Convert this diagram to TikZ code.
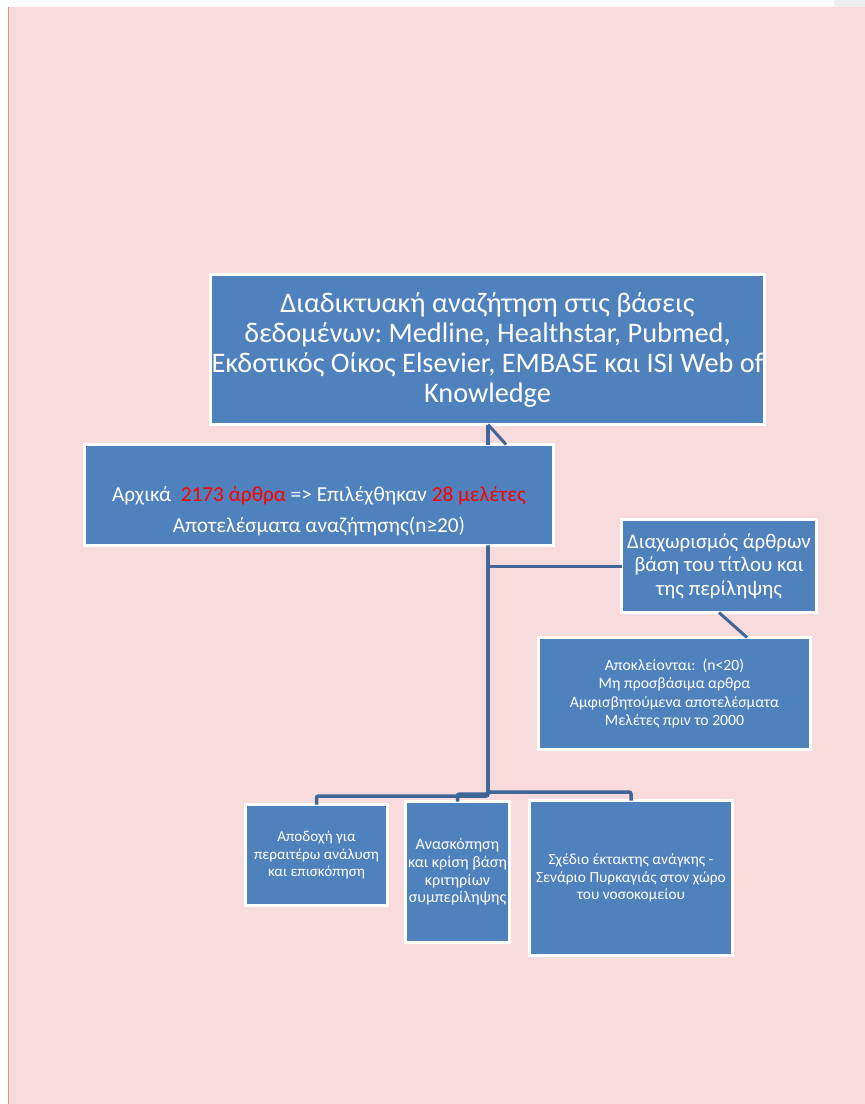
\documentclass[tikz,border=0pt]{standalone}
\usepackage{fontspec}
\setmainfont{Carlito}
\frenchspacing
\usetikzlibrary{calc}
\definecolor{bgpink}{HTML}{F8DBDC}
\definecolor{edgered}{HTML}{E58C8C}
\definecolor{boxblue}{HTML}{4F81BD}
\definecolor{linkblue}{HTML}{3F6696}
\definecolor{cornergray}{HTML}{EEEEEE}
\begin{document}
\begin{tikzpicture}[x=1pt,y=-1pt,
  bluebox/.style={rectangle, fill=boxblue, draw=white, line width=3pt, inner sep=0pt, outer sep=0pt, text=white, align=center},
  link/.style={draw=linkblue, line width=3.5pt, rounded corners=2pt}]
\useasboundingbox (0,0) rectangle (865,1104);
\fill[white] (0,0) rectangle (865,1104);
\fill[cornergray] (834,0) rectangle (865,7);
\fill[bgpink] (9,7) rectangle (865,1104);
\fill[edgered] (7.8,7) rectangle (9.3,1104);

\node[bluebox, minimum width=554pt, minimum height=150pt, font=\fontsize{28.3}{30}\selectfont] (top) at (487.5,349.5)
  {\strut Διαδικτυακή αναζήτηση στις βάσεις\\δεδομένων: Medline, Healthstar, Pubmed,\\Εκδοτικός Οίκος Elsevier, EMBASE και ISI Web of\\Knowledge};

\node[bluebox, minimum width=469pt, minimum height=101pt, font=\fontsize{21.3}{31.5}\selectfont] (b2) at (319,495)
  {\strut\\\strut Αρχικά\ \ {\color{red}2173 άρθρα} => Επιλέχθηκαν {\color{red}28 μελέτες}\\\strut Αποτελέσματα αναζήτησης(n≥20)};

\node[bluebox, minimum width=195pt, minimum height=93pt, font=\fontsize{20.9}{23.5}\selectfont] (b3) at (719,566)
  {Διαχωρισμός άρθρων\\βάση του τίτλου και\\της περίληψης};

\node[bluebox, minimum width=272pt, minimum height=112pt, font=\fontsize{15.7}{18.2}\selectfont] (b4) at (674.5,693.5)
  {Αποκλείονται:\ \ (n<20)\\Μη προσβάσιμα αρθρα\\Αμφισβητούμενα αποτελέσματα\\Μελέτες πριν το 2000};

\node[bluebox, minimum width=142pt, minimum height=101pt, font=\fontsize{15.1}{17.8}\selectfont] (ba) at (316.5,855)
  {Αποδοχή για\\περαιτέρω ανάλυση\\και επισκόπηση};

\node[bluebox, minimum width=104pt, minimum height=141pt, font=\fontsize{16}{17.6}\selectfont] (bb) at (457.5,872)
  {Ανασκόπηση\\και κρίση βάση\\κριτηρίων\\συμπερίληψης};

\node[bluebox, minimum width=203pt, minimum height=155pt, font=\fontsize{15.4}{17.6}\selectfont] (bc) at (631,878)
  {Σχέδιο έκτακτης ανάγκης -\\Σενάριο Πυρκαγιάς στον χώρο\\του νοσοκομείου};

% helper coordinates
\coordinate (v) at (488,0);
\coordinate (d) at (506,0);
\coordinate (e) at (747,0);
\coordinate (yA) at (0,796);
\coordinate (yB) at (0,794);
\coordinate (yC) at (0,792);

% connectors
\draw[link] (top.south -| v) -- (b2.north -| v);
\draw[link, line width=3pt] (top.south -| v) -- (b2.north -| d);
\draw[link] (b2.south -| v) |- (yA -| ba.north) -- (ba.north);
\draw[link] (b2.south -| v) |- (yB -| bb.north) -- (bb.north);
\draw[link] (b2.south -| v) |- (yC -| bc.north) -- (bc.north);
\draw[link, line width=3pt] (b3.west -| v) -- (b3.west);
\draw[link, line width=3pt] (b3.south) -- (b4.north -| e);
\end{tikzpicture}
\end{document}
